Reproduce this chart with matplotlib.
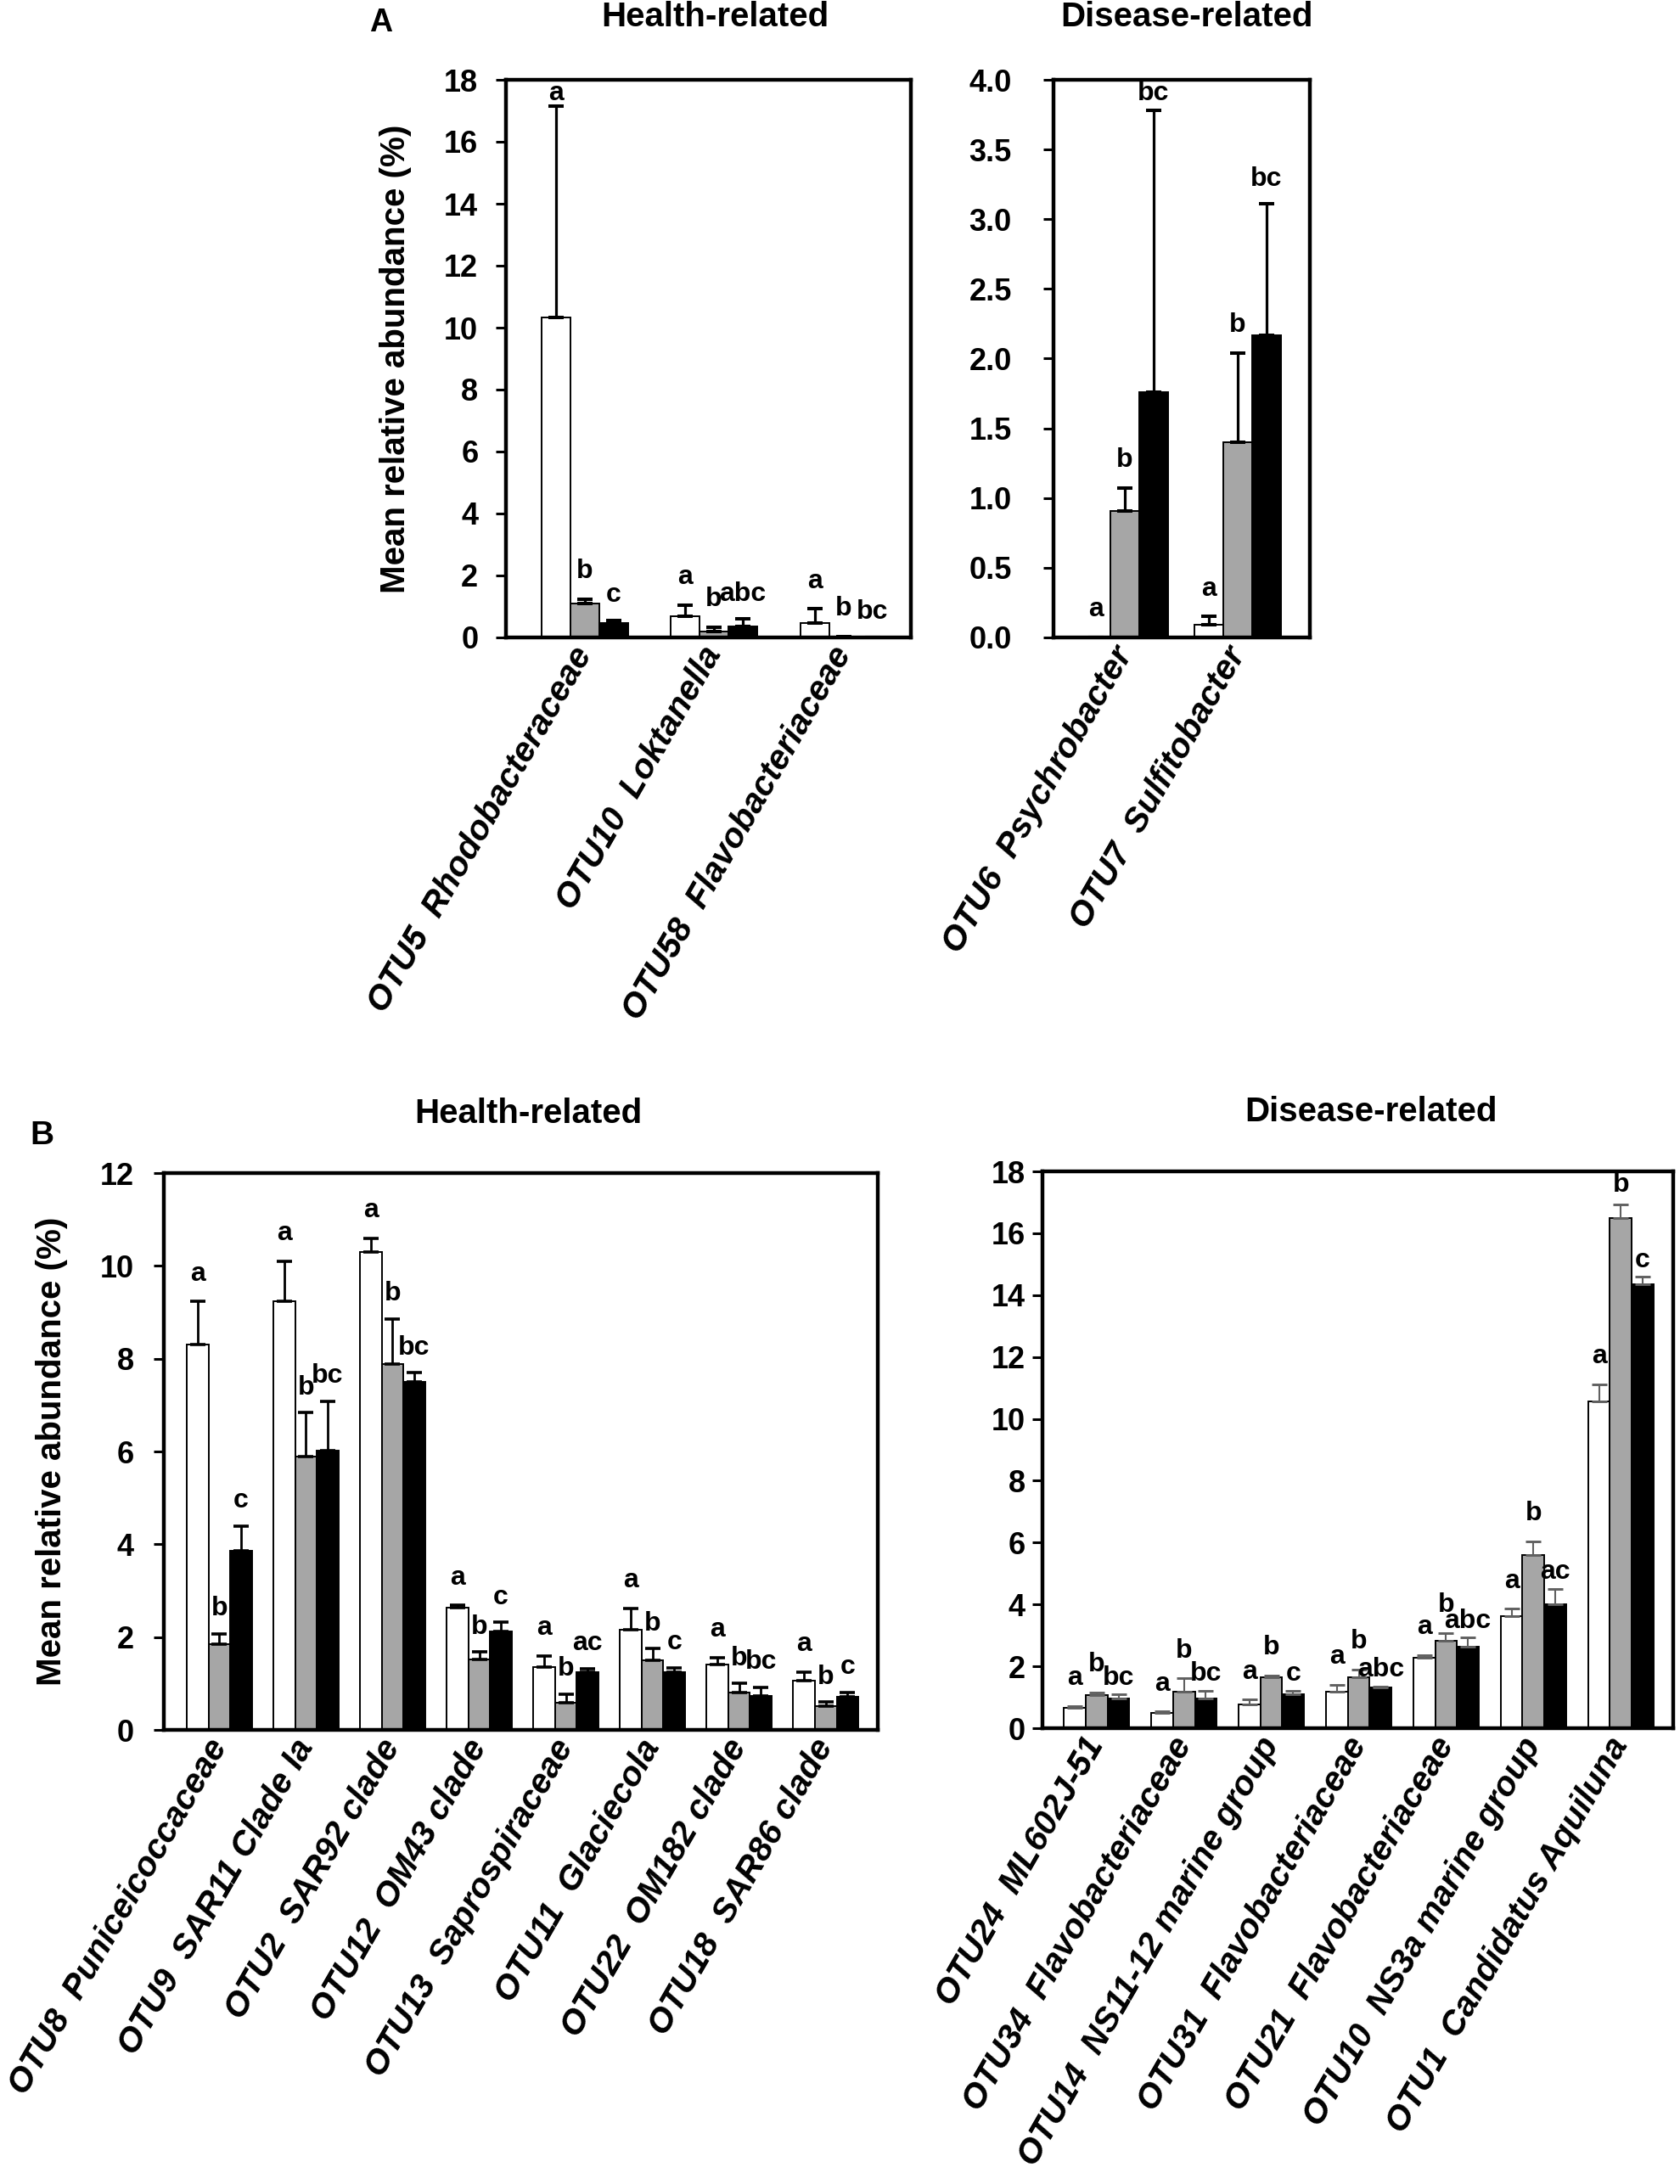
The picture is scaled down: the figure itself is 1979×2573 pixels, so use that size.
import numpy as np
import matplotlib
matplotlib.use("Agg")
import matplotlib.pyplot as plt

plt.rcParams['font.family'] = ['Liberation Sans', 'DejaVu Sans']
plt.rcParams['font.weight'] = 'bold'

# ---- data: panel A, health-related ----
a_health_cats = ['OTU5  Rhodobacteraceae', 'OTU10  Loktanella', 'OTU58  Flavobacteriaceae']
a_health_white = [10.34, 0.69, 0.47]
a_health_white_err = [6.82, 0.36, 0.45]
a_health_gray = [1.10, 0.20, 0.02]
a_health_gray_err = [0.14, 0.13, 0.0]
a_health_black = [0.47, 0.36, 0.0]
a_health_black_err = [0.09, 0.24, 0.0]
a_health_letters = [['a', 'a', 'a'], ['b', 'b', 'b'], ['c', 'abc', 'bc']]

# ---- panel A, disease-related ----
a_dis_cats = ['OTU6  Psychrobacter', 'OTU7  Sulfitobacter']
a_dis_white = [0.0, 0.09]
a_dis_white_err = [0.0, 0.06]
a_dis_gray = [0.91, 1.40]
a_dis_gray_err = [0.16, 0.64]
a_dis_black = [1.76, 2.17]
a_dis_black_err = [2.02, 0.94]
a_dis_letters = [['a', 'a'], ['b', 'b'], ['bc', 'bc']]

# ---- panel B, health-related ----
b_health_cats = ['OTU8  Puniceicoccaceae', 'OTU9  SAR11 Clade Ia', 'OTU2  SAR92 clade',
                 'OTU12  OM43 clade', 'OTU13  Saprospiraceae', 'OTU11  Glaciecola',
                 'OTU22  OM182 clade', 'OTU18  SAR86 clade']
b_health_white = [8.30, 9.23, 10.29, 2.64, 1.35, 2.16, 1.40, 1.07]
b_health_white_err = [0.93, 0.87, 0.30, 0.04, 0.24, 0.46, 0.15, 0.17]
b_health_gray = [1.85, 5.89, 7.88, 1.52, 0.59, 1.50, 0.80, 0.52]
b_health_gray_err = [0.22, 0.95, 0.98, 0.16, 0.18, 0.25, 0.20, 0.08]
b_health_black = [3.86, 6.02, 7.50, 2.12, 1.25, 1.25, 0.73, 0.71]
b_health_black_err = [0.53, 1.06, 0.20, 0.20, 0.07, 0.09, 0.19, 0.10]
b_health_letters = [['a'] * 8, ['b'] * 8, ['c', 'bc', 'bc', 'c', 'ac', 'c', 'bc', 'c']]

# ---- panel B, disease-related ----
b_dis_cats = ['OTU24  ML602J-51', 'OTU34  Flavobacteriaceae', 'OTU14  NS11-12 marine group',
              'OTU31  Flavobacteriaceae', 'OTU21  Flavobacteriaceae', 'OTU10  NS3a marine group',
              'OTU1  Candidatus Aquiluna']
b_dis_white = [0.645, 0.49, 0.76, 1.18, 2.28, 3.61, 10.57]
b_dis_white_err = [0.07, 0.05, 0.16, 0.22, 0.08, 0.25, 0.54]
b_dis_gray = [1.08, 1.17, 1.64, 1.65, 2.82, 5.59, 16.50]
b_dis_gray_err = [0.07, 0.44, 0.06, 0.24, 0.25, 0.44, 0.44]
b_dis_black = [0.97, 0.97, 1.10, 1.32, 2.63, 4.00, 14.36]
b_dis_black_err = [0.12, 0.25, 0.12, 0.03, 0.30, 0.50, 0.23]
b_dis_letters = [['a'] * 7, ['b'] * 7, ['bc', 'bc', 'c', 'abc', 'abc', 'ac', 'c']]

W, H = 1979, 2573
fig = plt.figure(figsize=(W / 100, H / 100), dpi=100)

fills = ['white', '#a6a6a6', 'black']


def px_axes(x0, y0, x1, y1):
    # pixel box (top-left origin) -> figure axes
    return fig.add_axes([x0 / W, 1 - y1 / H, (x1 - x0) / W, (y1 - y0) / H])


def panel(ax, cats, means, errs, letters, ymax, ystep, fmt, xlim, w,
          ecolor='black', elw=2.3, ylabel=False, ypad=16, offs=(0.05, 0.05, 0.045)):
    x = np.arange(len(cats))
    for j in range(3):
        xs = x + (j - 1) * w
        ax.bar(xs, means[j], w, color=fills[j], edgecolor='black', linewidth=1.4, zorder=2)
        ax.errorbar(xs, means[j], yerr=[np.zeros(len(cats)), errs[j]], fmt='none',
                    ecolor=ecolor, elinewidth=elw, capsize=6.5, capthick=elw + 0.6, zorder=3)
        for k in range(len(cats)):
            top = means[j][k] + errs[j][k]
            yl = min(top + offs[j] * ymax, 0.975 * ymax)
            ax.text(xs[k], yl, letters[j][k], ha='center', va='center',
                    fontsize=23, fontweight='bold', zorder=4)
    ax.set_xlim(*xlim)
    ax.set_ylim(0, ymax)
    ticks = np.arange(0, ymax + ystep / 2, ystep)
    ax.set_yticks(ticks)
    ax.set_yticklabels([fmt.format(t) for t in ticks], fontsize=26, fontweight='bold')
    ax.set_xticks(x)
    ax.set_xticklabels(cats, rotation=60, ha='right', va='center', rotation_mode='anchor',
                       fontsize=29, fontweight='bold', fontstyle='italic')
    ax.tick_params(axis='x', length=0, pad=10)
    ax.tick_params(axis='y', direction='out', length=8.5, width=2.2, pad=ypad)
    for s in ax.spines.values():
        s.set_linewidth(3.2)
    if ylabel:
        ax.set_ylabel('Mean relative abundance (%)', fontsize=29, fontweight='bold')


ax1 = px_axes(596, 94, 1073, 751)
panel(ax1, a_health_cats,
      [a_health_white, a_health_gray, a_health_black],
      [a_health_white_err, a_health_gray_err, a_health_black_err],
      a_health_letters, 18, 2, '{:.0f}', (-0.607, 2.52), 0.223, ylabel=True, ypad=15)
ax1.yaxis.set_label_coords(-0.233, 0.5)

ax2 = px_axes(1241, 94, 1543, 751)
panel(ax2, a_dis_cats,
      [a_dis_white, a_dis_gray, a_dis_black],
      [a_dis_white_err, a_dis_gray_err, a_dis_black_err],
      a_dis_letters, 4.0, 0.5, '{:.1f}', (-0.63, 1.64), 0.256, ypad=27)

ax3 = px_axes(193, 1382, 1034, 2038)
panel(ax3, b_health_cats,
      [b_health_white, b_health_gray, b_health_black],
      [b_health_white_err, b_health_gray_err, b_health_black_err],
      b_health_letters, 12, 2, '{:.0f}', (-0.64, 7.6), 0.25, elw=2.0, ylabel=True, ypad=17,
      offs=(0.05, 0.045, 0.045))
ax3.yaxis.set_label_coords(-0.134, 0.5)

ax4 = px_axes(1228, 1380, 1971, 2036)
panel(ax4, b_dis_cats,
      [b_dis_white, b_dis_gray, b_dis_black],
      [b_dis_white_err, b_dis_gray_err, b_dis_black_err],
      b_dis_letters, 18, 2, '{:.0f}', (-0.62, 6.6), 0.25,
      ecolor='#606060', elw=1.5, ypad=6, offs=(0.05, 0.05, 0.03))

# titles and panel letters
fig.text(842 / W, 1 - 20 / H, 'Health-related', ha='center', va='center', fontsize=29, fontweight='bold')
fig.text(1398 / W, 1 - 20 / H, 'Disease-related', ha='center', va='center', fontsize=29, fontweight='bold')
fig.text(622 / W, 1 - 1312 / H, 'Health-related', ha='center', va='center', fontsize=29, fontweight='bold')
fig.text(1615 / W, 1 - 1310 / H, 'Disease-related', ha='center', va='center', fontsize=29, fontweight='bold')
fig.text(449 / W, 1 - 27 / H, 'A', ha='center', va='center', fontsize=27, fontweight='bold')
fig.text(49 / W, 1 - 1338 / H, 'B', ha='center', va='center', fontsize=28, fontweight='bold')

fig.savefig('out.png', dpi=100, facecolor='white')
